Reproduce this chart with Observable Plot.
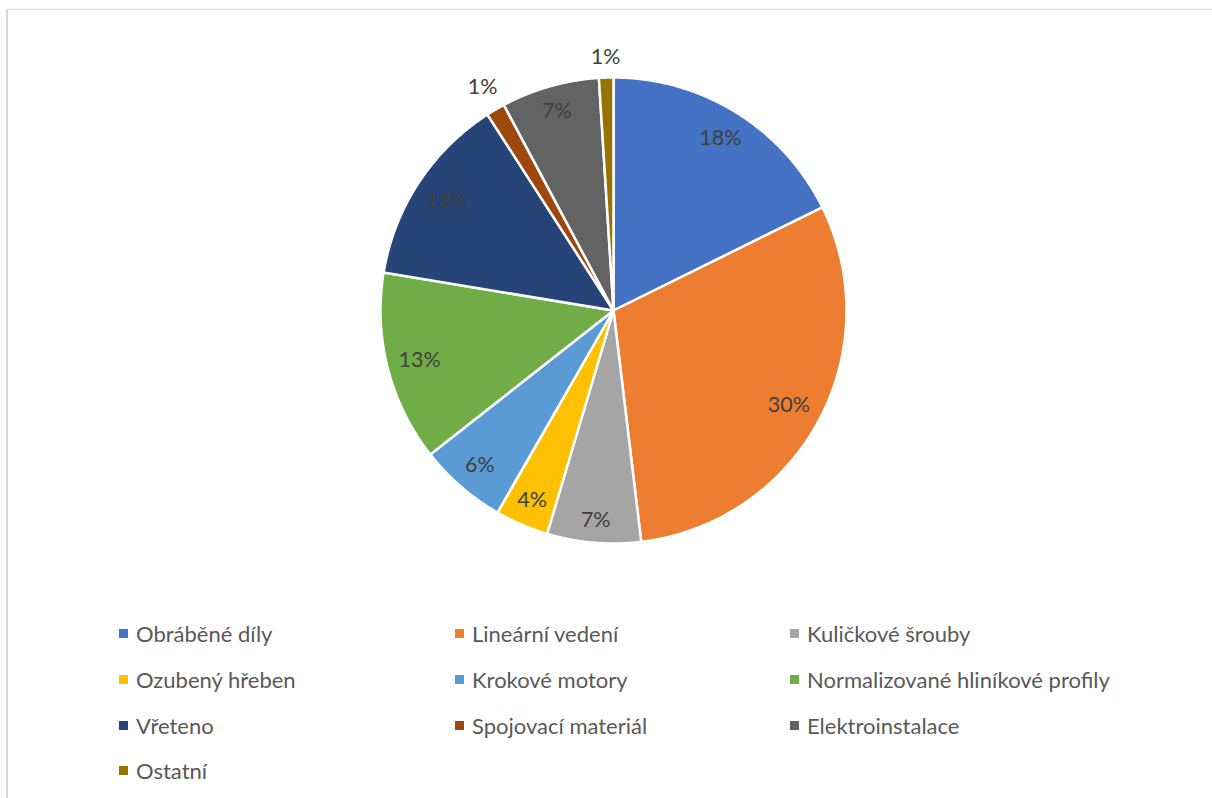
<!DOCTYPE html>
<html>
<head>
<meta charset="utf-8">
<script src="https://cdn.jsdelivr.net/npm/d3@7"></script>
<script src="https://cdn.jsdelivr.net/npm/@observablehq/plot@0.6"></script>
<style>
  html, body { margin: 0; padding: 0; background: #fff; overflow: hidden; }
  body { width: 1212px; height: 798px; position: relative; font-family: Lato, "Open Sans", sans-serif; }
  #frame { position: absolute; left: 6px; top: 9px; width: 1400px; height: 1000px;
           border-left: 2px solid #d9d9d9; border-top: 1px solid #d9d9d9; box-sizing: border-box; pointer-events: none; }
  #chart { position: absolute; left: 0; top: 0; }
  #legend { position: absolute; left: 119px; top: 611px; display: grid;
            grid-template-columns: 336px 335px 420px; grid-auto-rows: 45.7px; }
  .item { display: flex; align-items: center; font-size: 22px; color: #595959; white-space: nowrap; }
  .sw { width: 9px; height: 9px; margin-right: 8px; flex: none; }
</style>
</head>
<body>
<div id="chart"></div>
<div id="legend"></div>
<div id="frame"></div>
<script>
const categories = ["Obráběné díly", "Lineární vedení", "Kuličkové šrouby", "Ozubený hřeben", "Krokové motory",
  "Normalizované hliníkové profily", "Vřeteno", "Spojovací materiál", "Elektroinstalace", "Ostatní"];
const shares = [17.7, 30.4, 6.5, 3.7, 6.1, 13.2, 13.3, 1.3, 6.8, 1.0];
const colors = ["#4472C4", "#ED7D31", "#A5A5A5", "#FFC000", "#5B9BD5", "#70AD47", "#264478", "#9E480E", "#636363", "#997300"];

const R = 233;
const total = d3.sum(shares);
const arcs = d3.pie().sort(null).value(d => d)(shares);

// slice outlines
const pts = [];
arcs.forEach((a, i) => {
  const cat = categories[i];
  pts.push({cat, x: 0, y: 0});
  const n = Math.max(2, Math.ceil((a.endAngle - a.startAngle) / (Math.PI / 360)));
  for (let k = 0; k <= n; k++) {
    const t = a.startAngle + (a.endAngle - a.startAngle) * k / n;
    pts.push({cat, x: R * Math.sin(t), y: R * Math.cos(t)});
  }
  pts.push({cat, x: 0, y: 0});
});

// labels
const fs = 21.5;
const labels = arcs.map((a, i) => {
  const pct = shares[i] / total;
  const txt = Math.round(pct * 100) + "%";
  const m = (a.startAngle + a.endAngle) / 2;
  const hw = ((txt.length - 1) * 10.5 + 17) / 2, hh = 10;
  const proj = Math.abs(hw * Math.sin(m)) + Math.abs(hh * Math.cos(m));
  const r = pct < 0.02 ? R + 10 + proj : 221 - proj;
  return {txt, x: r * Math.sin(m), y: r * Math.cos(m)};
});

const plot = Plot.plot({
  width: 1212, height: 600, margin: 0,
  x: {domain: [-613, 599], axis: null},
  y: {domain: [-290, 310], axis: null},
  color: {domain: categories, range: colors},
  style: {fontFamily: "Lato, 'Open Sans', sans-serif", background: "transparent"},
  marks: [
    Plot.line(pts, {x: "x", y: "y", z: "cat", fill: "cat", stroke: "white", strokeWidth: 2.5, strokeLinejoin: "round"}),
    Plot.text(labels, {x: "x", y: "y", text: "txt", fill: "#404040", fontSize: fs})
  ]
});
document.getElementById("chart").appendChild(plot);

const legend = document.getElementById("legend");
categories.forEach((c, i) => {
  const it = document.createElement("div");
  it.className = "item";
  const sw = document.createElement("span");
  sw.className = "sw";
  sw.style.background = colors[i];
  it.appendChild(sw);
  it.appendChild(document.createTextNode(c));
  legend.appendChild(it);
});
</script>
</body>
</html>
